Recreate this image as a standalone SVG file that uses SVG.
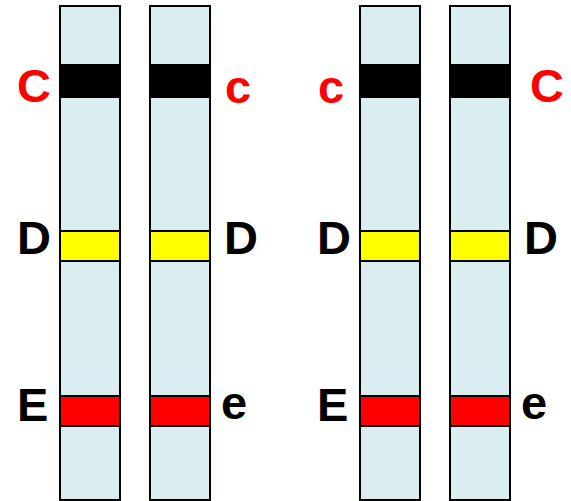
<svg xmlns="http://www.w3.org/2000/svg" width="571" height="501" viewBox="0 0 571 501">
<style>
.bar{fill:#daedf0;stroke:#000;stroke-width:2}
.band{stroke:#000;stroke-width:2}
.lbl{font-family:"Liberation Sans",Arial,sans-serif;font-weight:bold;font-size:47px}
.red{fill:#ff0000}
.blk{fill:#000}
</style>
<rect width="571" height="501" fill="#fff"/>
<g id="chromosome1">
<rect class="bar" x="60" y="6" width="60" height="494"/>
<rect class="band" fill="#000" x="60" y="65" width="60" height="32"/>
<rect class="band" fill="#ffff00" x="60" y="231" width="60" height="30"/>
<rect class="band" fill="#ff0000" x="60" y="396" width="60" height="30"/>
</g>
<g id="chromosome2">
<rect class="bar" x="150" y="6" width="60" height="494"/>
<rect class="band" fill="#000" x="150" y="65" width="60" height="32"/>
<rect class="band" fill="#ffff00" x="150" y="231" width="60" height="30"/>
<rect class="band" fill="#ff0000" x="150" y="396" width="60" height="30"/>
</g>
<g id="chromosome3">
<rect class="bar" x="360" y="6" width="60" height="494"/>
<rect class="band" fill="#000" x="360" y="65" width="60" height="32"/>
<rect class="band" fill="#ffff00" x="360" y="231" width="60" height="30"/>
<rect class="band" fill="#ff0000" x="360" y="396" width="60" height="30"/>
</g>
<g id="chromosome4">
<rect class="bar" x="450" y="6" width="60" height="494"/>
<rect class="band" fill="#000" x="450" y="65" width="60" height="32"/>
<rect class="band" fill="#ffff00" x="450" y="231" width="60" height="30"/>
<rect class="band" fill="#ff0000" x="450" y="396" width="60" height="30"/>
</g>
<g id="labels">
<text class="lbl red" x="17" y="102">C</text>
<text class="lbl red" x="225" y="103">c</text>
<text class="lbl red" x="318" y="103">c</text>
<text class="lbl red" x="530" y="102">C</text>
<text class="lbl blk" x="17" y="254">D</text>
<text class="lbl blk" x="224" y="254">D</text>
<text class="lbl blk" x="317" y="254">D</text>
<text class="lbl blk" x="524" y="254">D</text>
<text class="lbl blk" x="17" y="421">E</text>
<text class="lbl blk" x="221" y="419">e</text>
<text class="lbl blk" x="317" y="421">E</text>
<text class="lbl blk" x="521" y="419">e</text>
</g>
</svg>
